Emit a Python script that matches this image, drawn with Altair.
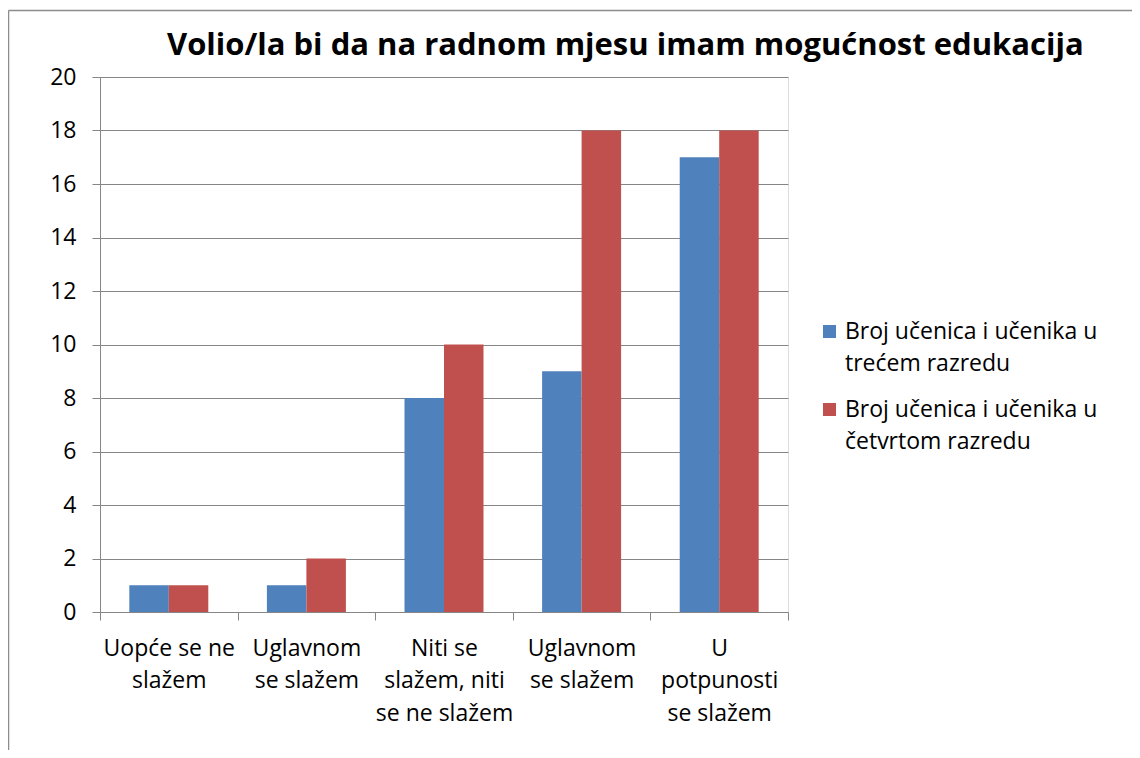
import json
import altair as alt
import pandas as pd

categories = [
    "Uopće se ne|slažem",
    "Uglavnom|se slažem",
    "Niti se|slažem, niti|se ne slažem",
    "Uglavnom|se slažem",
    "U|potpunosti|se slažem",
]
series = [
    "Broj učenica i učenika u trećem razredu",
    "Broj učenica i učenika u četvrtom razredu",
]
legend_lines = {
    series[0]: "Broj učenica i učenika u|trećem razredu",
    series[1]: "Broj učenica i učenika u|četvrtom razredu",
}
treci = [1, 1, 8, 9, 17]
cetvrti = [1, 2, 10, 18, 18]
y_ticks = [0, 2, 4, 6, 8, 10, 12, 14, 16, 18, 20]
colors = ["#4F81BD", "#C0504D"]

rows = []
for i in range(len(categories)):
    rows.append({"cat": i, "series": series[0], "value": treci[i]})
    rows.append({"cat": i, "series": series[1], "value": cetvrti[i]})
df = pd.DataFrame(rows)

GRAY = "#868686"
FONT = "Open Sans"
FS = 23

x_label_expr = (
    "isValid(datum.value) ? split("
    + json.dumps(categories, ensure_ascii=False)
    + "[datum.value], '|') : ''"
)
legend_label_expr = "split(" + json.dumps(legend_lines, ensure_ascii=False) + "[datum.label], '|')"

bars = alt.Chart(df).mark_bar().encode(
    x=alt.X(
        "cat:O",
        scale=alt.Scale(paddingInner=0, paddingOuter=0),
        axis=alt.Axis(
            title=None,
            labelExpr=x_label_expr,
            labelAngle=0,
            tickBand="extent",
            ticks=True,
            tickSize=8,
            tickColor=GRAY,
            domainColor=GRAY,
            grid=False,
            labelFontSize=FS,
            labelLineHeight=32.5,
            labelPadding=17,
            labelColor="black",
            labelFont=FONT,
        ),
    ),
    xOffset=alt.XOffset(
        "series:N",
        sort=series,
        scale=alt.Scale(paddingOuter=0.742, paddingInner=0),
    ),
    y=alt.Y(
        "value:Q",
        scale=alt.Scale(domain=[0, 20], nice=False),
        axis=alt.Axis(
            title=None,
            values=y_ticks,
            tickSize=8,
            tickColor=GRAY,
            domainColor=GRAY,
            gridColor=GRAY,
            labelFontSize=FS,
            labelPadding=16,
            labelColor="black",
            labelFont=FONT,
        ),
    ),
    color=alt.Color(
        "series:N",
        sort=series,
        scale=alt.Scale(domain=series, range=colors),
        legend=alt.Legend(
            title=None,
            orient="none",
            legendX=718,
            legendY=243,
            symbolType="square",
            symbolSize=169,
            symbolStrokeWidth=0,
            labelExpr=legend_label_expr,
            labelFontSize=FS,
            labelFont=FONT,
            labelColor="black",
            labelLimit=400,
            rowPadding=22,
        ),
    ),
)

border = alt.Chart(pd.DataFrame({"k": [0]})).mark_rule(color="#8c8c8c", strokeWidth=1.5).encode(
    x=alt.value(-91.5), y=alt.value(-66.5), y2=alt.value(673)
)
border_top = alt.Chart(pd.DataFrame({"k": [0]})).mark_rule(color="#8c8c8c", strokeWidth=1.5).encode(
    x=alt.value(-91.5), x2=alt.value(1032), y=alt.value(-66.5)
)

chart = (
    alt.layer(bars, border, border_top)
    .properties(
        width=688,
        height=535,
        title=alt.Title(
            "Volio/la bi da na radnom mjesu imam mogućnost edukacija",
            anchor="start",
            frame="group",
            dx=67,
            offset=-76,
            baseline="alphabetic",
            fontSize=31,
            font=FONT,
            fontWeight="bold",
            color="black",
        ),
        autosize=alt.AutoSizeParams(type="none"),
        padding={"left": 92, "top": 69, "right": 344, "bottom": 138},
    )
    .configure_view(stroke=None)
    .configure(style={"guide-label": {"lineHeight": 32}})
)

chart.save("out.html", embed_options={"renderer": "svg", "actions": False})
